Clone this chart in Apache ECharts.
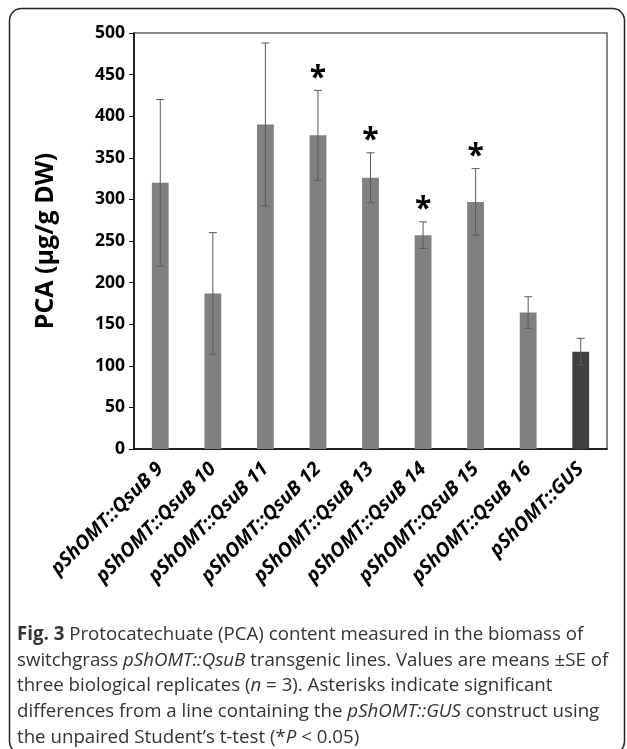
<!DOCTYPE html>
<html>
<head>
<meta charset="utf-8">
<script src="https://cdn.jsdelivr.net/npm/echarts@6/dist/echarts.min.js"></script>
<style>
html,body{margin:0;padding:0;background:#fff;}
#chart{width:627px;height:749px;}
</style>
</head>
<body>
<div id="chart"></div>
<script>
const categories = ['pShOMT::QsuB 9','pShOMT::QsuB 10','pShOMT::QsuB 11','pShOMT::QsuB 12','pShOMT::QsuB 13','pShOMT::QsuB 14','pShOMT::QsuB 15','pShOMT::QsuB 16','pShOMT::GUS'];
const means = [320, 187, 390, 377, 326, 257, 297, 164, 117];
const se = [100, 73, 98, 54, 30, 16, 40, 19, 16];
const significant = [false, false, false, true, true, true, true, false, false];
const yTicks = [0, 50, 100, 150, 200, 250, 300, 350, 400, 450, 500];

const chart = echarts.init(document.getElementById('chart'), null, {renderer: 'canvas'});

const barData = means.map((v, i) => ({
  value: v,
  itemStyle: { color: i === means.length - 1 ? '#404040' : '#808080' }
}));
const errData = means.map((v, i) => [i, v, se[i], significant[i] ? 1 : 0]);

const capFont = '"Open Sans", sans-serif';
const capSize = 18.7;
const lines = [
  '{b|Fig. 3} Protocatechuate (PCA) content measured in the biomass of',
  'switchgrass {i|pShOMT::QsuB} transgenic lines. Values are means ±SE of',
  'three biological replicates ({i|n} = 3). Asterisks indicate significant',
  'differences from a line containing the {i|pShOMT::GUS} construct using',
  'the unpaired Student\u2019s t-test (*{i|P} < 0.05)'
];
const capGraphics = lines.map((t, k) => ({
  type: 'text',
  left: 17,
  top: 625 + k * 25.8,
  style: {
    text: t,
    fontFamily: capFont,
    fontSize: capSize,
    fill: '#333',
    rich: {
      b: { fontFamily: capFont, fontSize: capSize, fontWeight: 'bold', fill: '#333' },
      i: { fontFamily: capFont, fontSize: capSize, fontStyle: 'italic', fill: '#333' }
    }
  }
}));

const option = {
  animation: false,
  backgroundColor: '#fff',
  grid: { left: 134, right: 20, top: 33, bottom: 300, show: true, borderColor: '#666', borderWidth: 1.5 },
  xAxis: {
    type: 'category',
    data: categories,
    axisLine: { lineStyle: { color: '#000', width: 1.5 } },
    axisTick: { show: false },
    axisLabel: {
      interval: 0,
      rotate: 45,
      margin: 17,
      fontFamily: '"Open Sans", sans-serif',
      fontWeight: 'bold',
      fontStyle: 'italic',
      fontSize: 19.5,
      color: '#000'
    }
  },
  yAxis: {
    type: 'value',
    min: 0, max: 500, interval: 50,
    name: 'PCA (µg/g DW)',
    nameLocation: 'middle',
    nameGap: 76,
    nameTextStyle: { fontFamily: '"Open Sans", sans-serif', fontWeight: 'bold', fontSize: 25, color: '#000' },
    axisLine: { show: true, lineStyle: { color: '#000', width: 1.5 } },
    axisTick: { show: true, length: 5, lineStyle: { color: '#000', width: 1 } },
    splitLine: { show: false },
    axisLabel: {
      margin: 9,
      fontFamily: '"Open Sans", sans-serif',
      fontWeight: 'bold',
      fontSize: 17.5,
      color: '#000',
      formatter: v => yTicks.includes(v) ? String(v) : ''
    }
  },
  series: [
    {
      type: 'bar',
      data: barData,
      barWidth: '32%'
    },
    {
      type: 'custom',
      data: errData,
      z: 10,
      renderItem: function (params, api) {
        const i = api.value(0), m = api.value(1), s = api.value(2), sig = api.value(3);
        const top = api.coord([i, m + s]);
        const bot = api.coord([i, m - s]);
        const cw = 4;
        const style = { stroke: '#5a5a5a', lineWidth: 1 };
        const children = [
          { type: 'line', shape: { x1: top[0], y1: top[1], x2: bot[0], y2: bot[1] }, style: style },
          { type: 'line', shape: { x1: top[0] - cw, y1: top[1], x2: top[0] + cw, y2: top[1] }, style: style },
          { type: 'line', shape: { x1: bot[0] - cw, y1: bot[1], x2: bot[0] + cw, y2: bot[1] }, style: style }
        ];
        if (sig) {
          children.push({
            type: 'text',
            style: {
              text: '*', x: top[0], y: top[1] + 3,
              textAlign: 'center', textVerticalAlign: 'bottom',
              fontFamily: '"Open Sans", sans-serif', fontWeight: 'bold', fontSize: 30, fill: '#000'
            }
          });
        }
        return { type: 'group', children: children };
      }
    }
  ],
  graphic: [
    {
      type: 'rect',
      shape: { x: 9.5, y: 8.5, width: 615, height: 745, r: 12 },
      style: { fill: 'none', stroke: '#222', lineWidth: 1.5 },
      z: -1
    }
  ].concat(capGraphics)
};
chart.setOption(option);
</script>
</body>
</html>
